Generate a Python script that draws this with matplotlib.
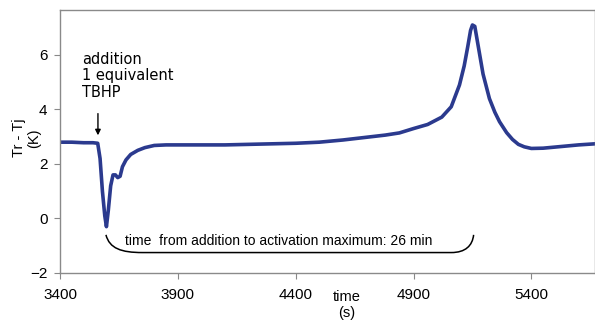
import numpy as np
import matplotlib.pyplot as plt
from matplotlib.path import Path
from matplotlib.patches import PathPatch

plt.rcParams['font.family'] = ['Liberation Sans', 'DejaVu Sans']

# trace: time (s) and Tr - Tj (K)
time_s = [3400, 3450, 3500, 3540, 3560, 3570, 3580, 3590, 3597, 3605, 3615, 3625,
          3635, 3645, 3655, 3665, 3680, 3700, 3730, 3760, 3800, 3850, 3900, 4000,
          4100, 4200, 4300, 4400, 4500, 4600, 4700, 4780, 4840, 4900, 4960, 5020,
          5060, 5095, 5115, 5130, 5142, 5150, 5160, 5175, 5195, 5222, 5245, 5265,
          5295, 5320, 5345, 5370, 5400, 5450, 5500, 5550, 5600, 5670]
delta_t = [2.8, 2.8, 2.78, 2.78, 2.76, 2.2, 1.0, 0.1, -0.3, 0.3, 1.2, 1.6,
           1.6, 1.5, 1.55, 1.9, 2.15, 2.35, 2.5, 2.6, 2.68, 2.7, 2.7, 2.7,
           2.7, 2.72, 2.74, 2.76, 2.8, 2.88, 2.98, 3.06, 3.14, 3.3, 3.45, 3.72,
           4.1, 4.9, 5.6, 6.3, 6.9, 7.1, 7.05, 6.3, 5.3, 4.4, 3.9, 3.55,
           3.15, 2.9, 2.72, 2.63, 2.57, 2.58, 2.62, 2.66, 2.7, 2.74]

x_ticks = [3400, 3900, 4400, 4900, 5400]
y_ticks = [-2, 0, 2, 4, 6]

fig = plt.figure(figsize=(5.95, 3.2), dpi=100)
ax = fig.add_axes([60 / 595, 1 - 273 / 320, 1 - 60 / 595, (273 - 10) / 320])

ax.plot(time_s, delta_t, color='#2b3a8e', lw=2.6, solid_joinstyle='round')

ax.set_xlim(3400, 5670)
ax.set_ylim(-2, 7.65)
ax.set_xticks(x_ticks)
ax.set_yticks(y_ticks)
ax.tick_params(labelsize=11, length=4, color='#888888', direction='out')
ax.tick_params(axis='x', pad=7)
ax.tick_params(axis='y', pad=5)
for s in ax.spines.values():
    s.set_color('#8a8a8a')
    s.set_linewidth(1.0)

# axis titles placed where the reference has them
fig.text(27 / 595, 1 - 138 / 320, 'Tr - Tj\n(K)', fontsize=10.5, rotation=90,
         ha='center', va='center', linespacing=1.1)
fig.text(347 / 595, 1 - 290 / 320, 'time\n(s)', fontsize=10.5, ha='center', va='top',
         linespacing=1.15)

# addition annotation (wider face, like the original)
ax.text(3495, 6.1, 'addition\n1 equivalent\nTBHP', fontsize=10.5, ha='left', va='top',
        linespacing=1.1, family='DejaVu Sans')
ax.annotate('', xy=(3561, 2.95), xytext=(3561, 3.95),
            arrowprops=dict(arrowstyle='-|>', color='black', lw=1.0, mutation_scale=8))

# bracket under the trace
verts = [(3595, -0.6), (3610, -1.1), (3660, -1.25), (3750, -1.25),
         (5060, -1.25), (5120, -1.25), (5150, -1.0), (5155, -0.6)]
codes = [Path.MOVETO, Path.CURVE4, Path.CURVE4, Path.CURVE4,
         Path.LINETO, Path.CURVE4, Path.CURVE4, Path.CURVE4]
ax.add_patch(PathPatch(Path(verts, codes), fill=False, color='black', lw=1.1))
ax.text(3676, -0.82, 'time  from addition to activation maximum: 26 min', fontsize=10,
        ha='left', va='center')

plt.savefig('out.png', dpi=100)
